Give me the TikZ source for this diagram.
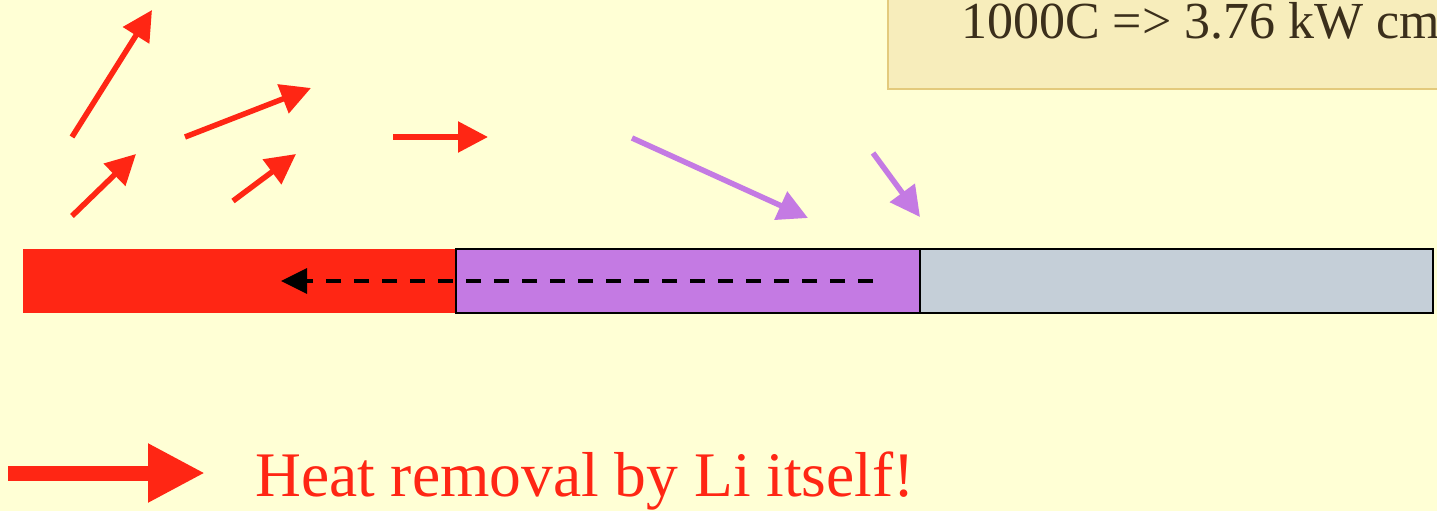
\documentclass[tikz,border=0pt]{standalone}
\usepackage{fontspec}
\setmainfont{Liberation Serif}
\usepackage{tikz}
\usetikzlibrary{arrows.meta}

\definecolor{slideBg}{HTML}{FFFFD5}
\definecolor{boxFill}{HTML}{F7EDBB}
\definecolor{boxLine}{HTML}{E3CA7C}
\definecolor{boxText}{HTML}{3B2F1B}
\definecolor{liRed}{HTML}{FF2614}
\definecolor{liPurple}{HTML}{C47AE3}
\definecolor{wallGray}{HTML}{C5CFD8}

\begin{document}
\begin{tikzpicture}[x=1pt,y=-1pt,
	redarrow/.style = {draw=liRed, line width=5.5pt, -{Triangle[length=30pt,width=30pt]}},
	purplearrow/.style = {draw=liPurple, line width=5.5pt, -{Triangle[length=30pt,width=30pt]}},
	layer/.style = {draw=black, line width=1.5pt}]
	\useasboundingbox (0,0) rectangle (1437,511);
	\fill[slideBg] (0,0) rectangle (1437,511);
	\begin{scope}
	\clip (0,0) rectangle (1437,511);
	\filldraw[fill=boxFill, draw=boxLine, line width=1.5pt] (888,-20) rectangle (1460,89); %box
	\node[anchor=base west, inner sep=0, text=boxText, font=\fontsize{52}{52}\selectfont] (rate) at (961,38) {1000C => 3.76 kW cm};
	\end{scope}
	% arrows leaving the surface
	\coordinate (r1a) at (72,137);  \coordinate (r1b) at (152,10);
	\coordinate (r2a) at (72,216);  \coordinate (r2b) at (136,154);
	\coordinate (r3a) at (185,137); \coordinate (r3b) at (311,88);
	\coordinate (r4a) at (233,201); \coordinate (r4b) at (296,154);
	\coordinate (r5a) at (393,137); \coordinate (r5b) at (488,137);
	\foreach \i in {1,...,5} { \draw[redarrow] (r\i a) -- (r\i b); }
	% arrows coming in
	\coordinate (p1a) at (632,138); \coordinate (p1b) at (808,218);
	\coordinate (p2a) at (873,153); \coordinate (p2b) at (920,217);
	\foreach \i in {1,2} { \draw[purplearrow] (p\i a) -- (p\i b); }
	% the three layers
	\fill[liRed] (23,249) rectangle (456,313); %0
	\filldraw[layer, fill=liPurple] (456,249) rectangle (920,313); %1
	\filldraw[layer, fill=wallGray] (920,249) rectangle (1433,313); %2
	\coordinate (flowStart) at (873,281);
	\coordinate (flowEnd) at (281,281);
	\draw[line width=3.5pt, dash pattern=on 15pt off 13pt, -{Triangle[length=26pt,width=25pt]}] (flowStart) -- (flowEnd);
	% legend
	\coordinate (legA) at (8,473);
	\coordinate (legB) at (205,473);
	\draw[liRed, line width=15pt, -{Triangle[length=57pt,width=55pt]}] (legA) -- (legB);
	\node[anchor=base west, inner sep=0, text=liRed, font=\fontsize{63.5}{63.5}\selectfont] (legText) at (255,496) {Heat removal by Li itself!};
\end{tikzpicture}
\end{document}
